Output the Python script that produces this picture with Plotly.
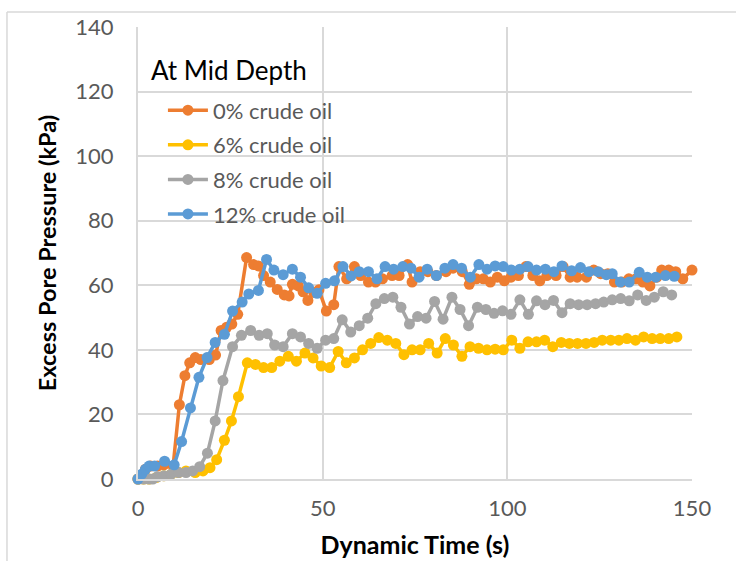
import plotly.graph_objects as go

# ---- data ----
t0 = [0, 1, 2, 3.4, 5.3, 7, 9.5, 11.2, 12.7, 14, 15.5, 17, 19.3, 21, 22.5, 24, 25.4, 27,
      29.4, 31.3, 32.6, 34, 35.8, 37.7, 39.6, 40.9, 41.8, 43.4, 44.7, 46, 47.6, 49, 51, 53,
      54.4, 56.5, 58.6, 60.3, 62.4, 64.3, 66.2, 68.8, 70.7, 73, 74.2, 76.4, 78.5, 80.8, 83.4,
      85.3, 87.8, 89.7, 91.6, 93.5, 95.4, 97.3, 99.2, 101, 103, 105, 106.9, 108.8, 110.7,
      113.2, 115.1, 117, 118.9, 121.4, 123.4, 125.3, 127.2, 129, 131, 132.9, 134.8, 136.7,
      138.6, 140.5, 141.8, 143.7, 145.6, 147.5, 150]
p0 = [0, 1, 3, 4, 4, 4.4, 4, 23, 32, 36, 37.6, 37, 37, 38.4, 46, 47, 48, 51,
      68.6, 66.4, 66, 63, 61, 58.7, 57, 56.7, 60.3, 59.8, 58, 55.3, 57.8, 58.6, 52, 54,
      65.8, 62, 65.8, 63, 61, 61, 62, 63, 63, 66.4, 61, 64.2, 64.2, 63, 64.2,
      65.3, 64.2, 60.3, 62, 62, 61, 62.5, 61.4, 62.5, 63, 65.8, 63, 61.4, 63,
      63, 65.8, 62.5, 62.5, 62.5, 64.7, 63.6, 63.6, 61, 61, 62, 62, 61,
      59.8, 62.5, 64.7, 64.7, 64.2, 62, 64.7]

t6 = [0, 1.5, 3, 5, 7, 9, 11, 13, 15.5, 17.6, 19.5, 21.3, 23.4, 25.3, 27.2, 29.6, 31.8, 34,
      36.2, 38.4, 40.7, 42.9, 45.2, 47.4, 49.6, 51.9, 54.2, 56.4, 58.6, 60.8, 63, 65.2, 67.5,
      69.8, 72, 74.2, 76.4, 78.7, 81, 83.2, 85.4, 87.7, 89.9, 92.2, 94.5, 96.7, 98.9, 101.2,
      103.4, 105.6, 107.9, 110.1, 112.3, 114.6, 116.8, 119, 121.3, 123.5, 125.7, 128, 130.2,
      132.4, 134.7, 136.9, 139.2, 141.4, 143.7, 145.9]
p6 = [0, 0, 0, 0.5, 1, 1.5, 2, 2.5, 2, 2.5, 3.5, 6, 12, 18, 25.5, 36, 35.5, 34.5,
      34.5, 36.5, 38, 36.5, 39, 37.5, 35, 34.5, 39.5, 36, 37.5, 40, 42, 43.8, 43,
      42, 38.5, 40, 40, 42, 39, 43.5, 41.5, 38, 41, 40.5, 40, 40.2, 40, 43,
      40.5, 42.5, 42.5, 43, 41, 42.3, 42, 42, 42, 42.3, 43, 43, 43,
      43.5, 43, 44, 43.5, 43.5, 43.5, 44]

t8 = [0, 1.5, 3, 4, 5.3, 7, 9, 11, 13, 14.8, 16.7, 18.8, 20.9, 23, 25.6, 28, 30.5, 32.8,
      35, 37, 39.3, 41.8, 44, 46.2, 48.5, 50.8, 53, 55.3, 57.6, 59.9, 62.2, 64.4, 66.7,
      69, 71.2, 73.5, 75.7, 78, 80.3, 82.6, 85, 87.2, 89.5, 91.9, 94.2, 96.4, 98.7, 101,
      103.4, 105.7, 107.9, 110.2, 112.5, 114.8, 117, 119.3, 121.6, 123.9, 126.1, 128.4,
      130.7, 133, 135.3, 137.6, 139.8, 142.2, 144.5]
p8 = [0, 0, 0, 0, 0.7, 1, 1.5, 2, 2, 2.5, 3.8, 8, 18, 30.5, 41, 44.5, 46, 44.5,
      45, 41.5, 41, 45, 44, 42, 40.5, 43, 43.5, 49.3, 45.5, 47.5, 49.8, 54.3, 55.9,
      56.3, 53.2, 48, 50.3, 49.8, 55, 49.5, 56.3, 52.5, 47.5, 53.2, 52.5, 51.3, 52.1, 51,
      55.5, 51, 55.2, 54, 55.3, 51.5, 54.3, 54, 54, 54.3, 54.8, 55.5,
      55.9, 55.2, 57, 55.3, 56.3, 58, 57]

t12 = [0, 1, 2, 3, 4.5, 7.2, 9.8, 11.8, 14.2, 16.5, 18.7, 20.9, 23.4, 25.6, 28.2, 30, 32.6,
       34.8, 36.8, 39.3, 41.8, 44, 46.2, 48.5, 50.8, 53.2, 55.5, 57.7, 59.9, 62.4, 64.7, 66.9,
       69.2, 71.7, 73.9, 76.1, 78.3, 80.8, 83.1, 85.3, 87.6, 90, 92.3, 94.5, 96.7, 98.9, 101.1,
       103.4, 105.6, 107.9, 110.3, 112.6, 114.8, 117.4, 119.8, 122.1, 124.6, 126.8, 128.4,
       130.6, 133, 135.7, 137.9, 140.2, 142.8, 145.2]
p12 = [0, 1.5, 3, 4, 4, 5.5, 4.4, 11.6, 22, 31.5, 37.6, 42.3, 44.8, 52, 54.8, 57.3, 58.4,
       68, 64.7, 63.3, 65, 62.5, 59.2, 57.5, 60.6, 61.4, 65.8, 62.9, 64.2, 64.2, 62, 65.8,
       65, 65.8, 65.3, 62.5, 65, 63, 65.3, 66.4, 65.3, 62.5, 66.4, 65, 66, 65.8, 64.7,
       65, 65.8, 64.7, 65, 64.2, 66, 64.5, 65.5, 64.2, 64.2, 63.3, 63.6,
       61, 61, 64, 62.5, 62.5, 63, 62.8]

series = [
    ("0% crude oil", t0, p0, "#ED7D31"),
    ("6% crude oil", t6, p6, "#FFC000"),
    ("8% crude oil", t8, p8, "#A5A5A5"),
    ("12% crude oil", t12, p12, "#5B9BD5"),
]

x_ticks = [0, 50, 100, 150]
y_ticks = [0, 20, 40, 60, 80, 100, 120, 140]

FONT = "Lato, 'Open Sans', sans-serif"

fig = go.Figure()
for i, (name, xs, ys, col) in enumerate(series):
    fig.add_trace(go.Scatter(
        x=xs, y=ys, name=name, mode="lines+markers",
        line=dict(color=col, width=3.5),
        marker=dict(color=col, size=11),
        cliponaxis=False, legendgroup=f"g{i}",
    ))

fig.update_layout(
    width=736, height=561,
    margin=dict(l=138, r=44, t=27, b=82),
    paper_bgcolor="white", plot_bgcolor="white",
    font=dict(family=FONT, color="#595959", size=22),
    showlegend=True,
    legend=dict(
        x=0.045, y=0.862, xanchor="left", yanchor="top",
        bgcolor="rgba(255,255,255,0)",
        font=dict(size=22, color="#595959", family=FONT),
        itemwidth=40, tracegroupgap=3,
    ),
    xaxis=dict(
        range=[0, 150], tickvals=x_ticks, ticks="", showline=True,
        linecolor="#D9D9D9", linewidth=2, mirror=False, automargin=False,
        showgrid=True, gridcolor="#D9D9D9", gridwidth=1.5, zeroline=False,
        tickfont=dict(size=22, color="#595959"), ticklabelstandoff=9,
        title=dict(text="<b>Dynamic Time (s)</b>", font=dict(size=25, color="#000000"), standoff=16),
    ),
    yaxis=dict(
        range=[0, 140], tickvals=y_ticks, ticks="", showline=True,
        linecolor="#D9D9D9", linewidth=2, automargin=False,
        showgrid=True, gridcolor="#D9D9D9", gridwidth=1.5, zeroline=False,
        tickfont=dict(size=22, color="#595959"), ticklabelstandoff=18,
        title=dict(text="<b>Excess Pore Pressure (kPa)</b>", font=dict(size=23.5, color="#000000"), standoff=12),
    ),
    annotations=[dict(
        text="At Mid Depth", xref="paper", yref="paper", x=0.02, y=0.905,
        xanchor="left", yanchor="middle", showarrow=False,
        font=dict(size=26, color="#000000", family=FONT),
    )],
)

# outer chart frame
fig.add_shape(type="line", xref="paper", yref="paper", x0=-0.2365, x1=-0.2365, y0=1.033, y1=-0.2,
              line=dict(color="#D9D9D9", width=1.5))
fig.add_shape(type="line", xref="paper", yref="paper", x0=-0.2365, x1=1.1, y0=1.033, y1=1.033,
              line=dict(color="#D9D9D9", width=1.5))

fig.write_html("out.html")
